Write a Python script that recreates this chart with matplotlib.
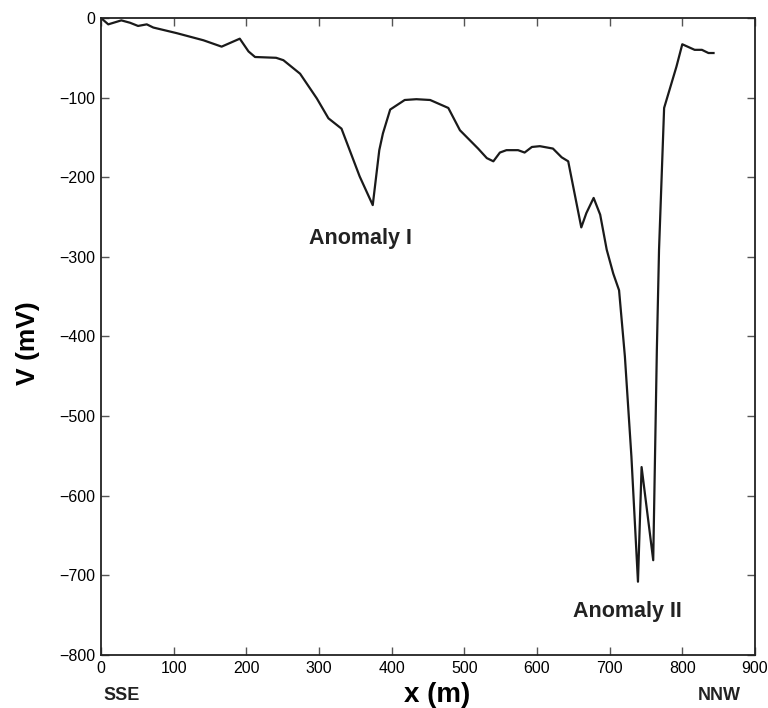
import matplotlib.pyplot as plt

# self-potential profile along the line, SSE -> NNW
x_m = [0, 10, 28, 40, 51, 63, 72, 104, 141, 166, 191, 203, 212, 241, 251,
       274, 297, 313, 331, 356, 374, 383, 388, 398, 418, 434, 453, 478, 494,
       519, 531, 540, 549, 558, 574, 583, 593, 604, 622, 634, 643, 661, 668,
       678, 687, 696, 705, 713, 721, 730, 739, 744, 760, 765, 768, 775, 792,
       800, 817, 827, 836, 843]
v_mv = [0, -8, -3, -6, -10, -8, -12, -19, -28, -36, -26, -42, -49, -50, -53,
        -70, -101, -126, -139, -199, -235, -166, -145, -115, -103, -102, -103,
        -113, -141, -164, -176, -180, -169, -166, -166, -169, -162, -161, -164,
        -175, -180, -263, -245, -226, -247, -291, -321, -342, -425, -551, -708,
        -564, -681, -417, -291, -113, -61, -33, -40, -40, -44, -44]

x_ticks = [0, 100, 200, 300, 400, 500, 600, 700, 800, 900]
y_ticks = [0, -100, -200, -300, -400, -500, -600, -700, -800]

plt.rcParams['font.family'] = ['Liberation Sans', 'DejaVu Sans']

fig = plt.figure(figsize=(7.68, 7.08), dpi=100)
ax = fig.add_axes([0.1315, 0.0749, 0.8515, 0.8997])

ax.plot(x_m, v_mv, color='#1a1a1a', lw=1.6)

ax.set_xlim(0, 900)
ax.set_ylim(-800, 0)
ax.set_xticks(x_ticks)
ax.set_yticks(y_ticks)
ax.set_yticklabels(['0' if t == 0 else '\u2212%d' % -t for t in y_ticks])
ax.tick_params(direction='in', length=6, width=1, labelsize=11.5,
               top=True, right=True, color='#555555', pad=4)
for s in ax.spines.values():
    s.set_linewidth(1.3)
    s.set_color('#222222')

ax.text(357, -277, 'Anomaly I', ha='center', va='center',
        fontsize=15.5, fontweight='bold', color='#222222')
ax.text(725, -746, 'Anomaly II', ha='center', va='center',
        fontsize=15.5, fontweight='bold', color='#222222')

fig.text(28 / 768, 1 - 343 / 708, 'V (mV)', rotation=90, ha='center',
         va='center', fontsize=19, fontweight='bold')
fig.text(437 / 768, 1 - 695 / 708, 'x (m)', ha='center', va='center',
         fontsize=20, fontweight='bold')
fig.text(122 / 768, 1 - 695 / 708, 'SSE', ha='center', va='center',
         fontsize=13, fontweight='bold', color='#222222')
fig.text(719 / 768, 1 - 695 / 708, 'NNW', ha='center', va='center',
         fontsize=13, fontweight='bold', color='#222222')

fig.savefig('out.png', dpi=100)
